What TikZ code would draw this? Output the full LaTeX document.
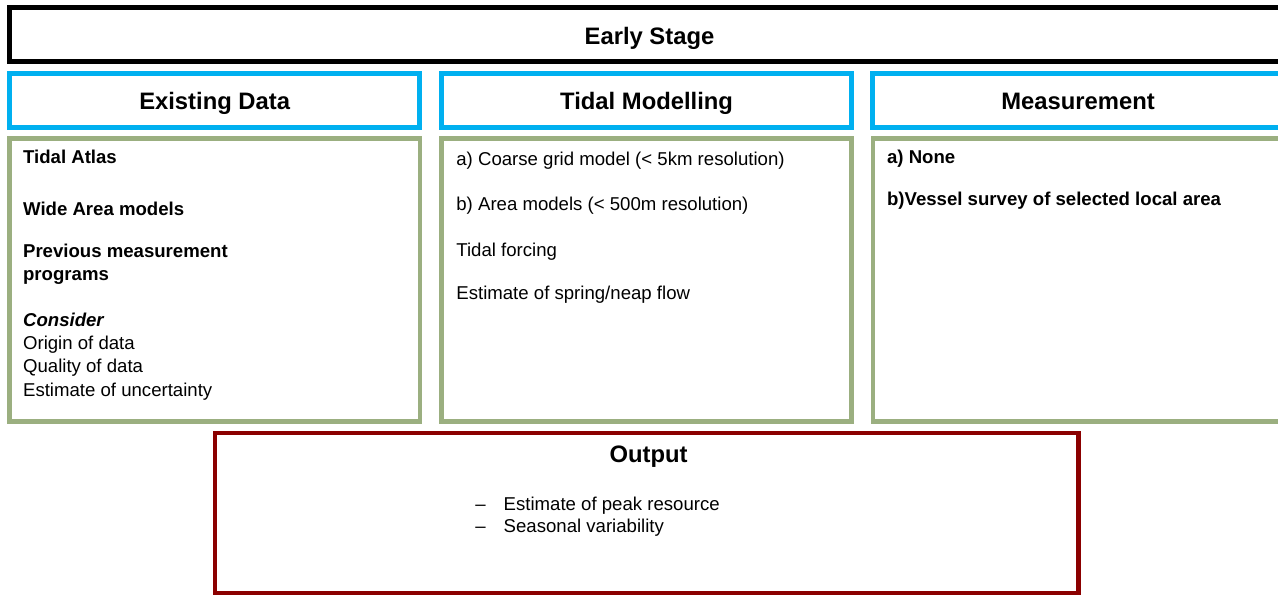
\documentclass[tikz,border=0pt]{standalone}
\usepackage{fontspec}
\setmainfont{Liberation Sans}
\usepackage{xcolor}
\usetikzlibrary{positioning}

\definecolor{headblue}{RGB}{0,176,240}
\definecolor{boxgreen}{RGB}{155,175,128}
\definecolor{outred}{RGB}{139,0,0}

\begin{document}
\begin{tikzpicture}[x=0.5pt, y=-0.5pt,
        stagebox/.style={draw=black, line width=2.4pt, inner sep=0pt, minimum width=639.7pt, minimum height=27pt, text height=9.6pt, text depth=0pt, font=\bfseries\fontsize{11.9}{14}\selectfont},
        headbox/.style={draw=headblue, line width=2.5pt, inner sep=0pt, minimum width=205.15pt, minimum height=27pt, text height=9.6pt, text depth=0pt, font=\bfseries\fontsize{11.9}{14}\selectfont},
        bodybox/.style={draw=boxgreen, line width=2.3pt, inner sep=0pt, minimum width=205.15pt, minimum height=141.5pt},
        outbox/.style={draw=outred, line width=2.3pt, inner sep=0pt, minimum width=431.65pt, minimum height=80pt},
        item/.style={anchor=base west, inner sep=0pt, font=\fontsize{9.3}{11.6}\selectfont},
        bolditem/.style={item, font=\bfseries\fontsize{9.3}{11.6}\selectfont}
    ]
        \useasboundingbox (0,0) rectangle (1278,596);
        \clip (0,0) rectangle (1278,596);

        \node[stagebox] (early) at (649.5,34.75) {Early Stage};

        \foreach \x/\name/\title in {214.65/exist/Existing Data, 646.6/tidal/Tidal Modelling, 1078.1/meas/Measurement}
        {
        \node[headbox] (\name head) at (\x,100) {\title};
        \node[bodybox] (\name body) at (\x,279.8) {};
        }

        % existing data
        \node[bolditem] (atlas) at (22.7,163.5) {Tidal Atlas};
        \node[bolditem] (wide) at (22.7,215) {Wide Area models};
        \node[bolditem] (prev) at (22.7,257) {Previous measurement};
        \node[bolditem] (progs) at (22.7,280) {programs};
        \node[bolditem] (consider) at (22.7,326.3) {\itshape Consider};
        \node[item] (origin) at (22.7,349.6) {Origin of data};
        \node[item] (quality) at (22.7,372.9) {Quality of data};
        \node[item] (uncert) at (22.7,396.2) {Estimate of uncertainty};

        % tidal modelling
        \node[item] (coarse) at (456,165.3) {a) Coarse grid model (< 5km resolution)};
        \node[item] (area) at (456,210.3) {b) Area models (< 500m resolution)};
        \node[item] (forcing) at (456,256) {Tidal forcing};
        \node[item] (spring) at (456,299.7) {Estimate of spring/neap flow};

        % measurement
        \node[bolditem] (none) at (886.7,163.7) {a) None};
        \node[bolditem] (vessel) at (886.7,205.3) {b)Vessel survey of selected local area};

        % output
        \node[outbox] (output) at (646.7,513) {};
        \node[anchor=base, inner sep=0pt, font=\bfseries\fontsize{11.9}{14}\selectfont] (outtitle) at (648.5,462.3) {Output};
        \node[item] (dashA) at (475,510.3) {--};
        \node[item] (peak) at (503.3,510.3) {Estimate of peak resource};
        \node[item] (dashB) at (475,532.7) {--};
        \node[item] (season) at (503.3,532.7) {Seasonal variability};

    \end{tikzpicture}
\end{document}
